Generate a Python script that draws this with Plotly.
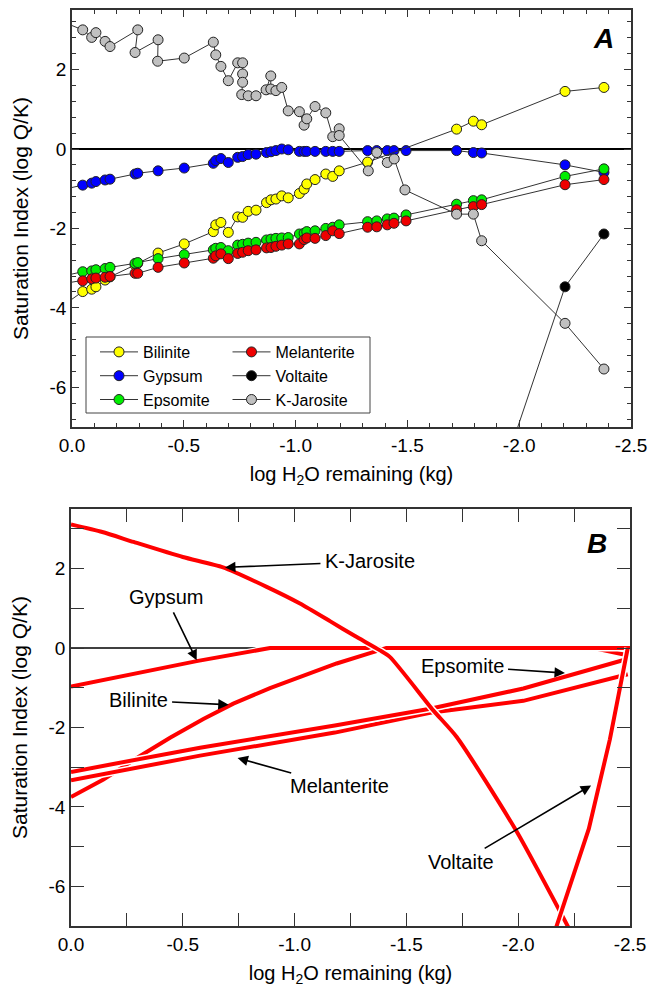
import plotly.graph_objects as go

# ---------------- Panel A data (model steps) ----------------
x_steps = [0.05, -0.048, -0.088, -0.107, -0.148, -0.170, -0.282, -0.294, -0.385, -0.502,
           -0.632, -0.643, -0.666, -0.699, -0.741, -0.763, -0.788, -0.823, -0.870, -0.890,
           -0.912, -0.938, -0.967, -1.017, -1.038, -1.050, -1.087, -1.135, -1.166, -1.195,
           -1.322, -1.363, -1.410, -1.440, -1.494, -1.720, -1.795, -1.832, -2.205, -2.379]

gypsum_a = [-1.03, -0.91, -0.86, -0.82, -0.78, -0.76, -0.63, -0.61, -0.55, -0.48,
            -0.36, -0.29, -0.24, -0.34, -0.21, -0.19, -0.14, -0.13, -0.09, -0.07,
            -0.04, 0.00, -0.02, -0.06, -0.06, -0.06, -0.06, -0.06, -0.06, -0.06,
            -0.04, -0.04, -0.04, -0.04, -0.04, -0.04, -0.09, -0.10, -0.40, -0.59]

bilinite_a = [-3.98, -3.59, -3.53, -3.47, -3.30, -3.22, -2.92, -2.88, -2.62, -2.39,
              -2.08, -1.91, -1.85, -2.10, -1.71, -1.72, -1.57, -1.54, -1.35, -1.28,
              -1.26, -1.18, -1.23, -1.12, -1.01, -0.88, -0.77, -0.63, -0.69, -0.55,
              -0.33, None, None, None, None, 0.50, 0.70, 0.61, 1.45, 1.55]

epsomite_a = [-3.21, -3.09, -3.07, -3.04, -3.01, -2.98, -2.88, -2.86, -2.76, -2.66,
              -2.54, -2.50, -2.48, -2.56, -2.42, -2.40, -2.37, -2.35, -2.29, -2.27,
              -2.25, -2.24, -2.23, -2.14, -2.12, -2.08, -2.06, -2.00, -1.97, -1.91,
              -1.83, -1.81, -1.76, -1.74, -1.66, -1.39, -1.30, -1.28, -0.69, -0.50]

melanterite_a = [-3.40, -3.32, -3.27, -3.25, -3.23, -3.21, -3.13, -3.13, -2.98, -2.87,
                 -2.75, -2.69, -2.64, -2.76, -2.63, -2.60, -2.56, -2.54, -2.49, -2.48,
                 -2.45, -2.42, -2.39, -2.39, -2.28, -2.24, -2.25, -2.18, -2.06, -2.13,
                 -1.97, -1.96, -1.91, -1.87, -1.81, -1.53, -1.45, -1.40, -0.90, -0.77]

voltaite_x = [-1.832, -2.205, -2.379]
voltaite_a = [-9.7, -3.47, -2.14]

kjarosite_x = [0.05, -0.048, -0.088, -0.107, -0.148, -0.170, -0.294, -0.282, -0.385, -0.383,
               -0.502, -0.632, -0.643, -0.666, -0.699, -0.741, -0.763, -0.763, -0.763, -0.759,
               -0.788, -0.823, -0.868, -0.889, -0.889, -0.912, -0.938, -0.967, -1.017, -1.038,
               -1.050, -1.087, -1.135, -1.166, -1.195, -1.195, -1.325, -1.363, -1.410, -1.441,
               -1.489, -1.720, -1.795, -1.832, -2.205, -2.379]
kjarosite_a = [3.22, 3.00, 2.81, 2.93, 2.71, 2.58, 3.00, 2.43, 2.75, 2.21,
               2.29, 2.69, 2.37, 2.08, 1.72, 2.17, 2.17, 1.89, 1.68, 1.37,
               1.34, 1.34, 1.49, 1.84, 1.51, 1.47, 1.55, 0.96, 0.94, 0.60,
               0.76, 1.07, 0.91, 0.31, 0.51, 0.34, -0.55, -0.09, -0.34, -0.25,
               -1.03, -1.64, -1.64, -2.31, -4.39, -5.54]

# ---------------- Panel B data (curves) ----------------
kjar_b_x = [0, -0.14, -0.28, -0.50, -0.68, -0.875, -1.024, -1.16, -1.27, -1.382, -1.427,
            -1.62, -1.725, -1.99, -2.24]
kjar_b_y = [3.11, 2.92, 2.67, 2.29, 2.03, 1.54, 1.12, 0.67, 0.30, -0.06, -0.23,
            -1.57, -2.24, -4.59, -7.2]
gyp_b_x = [0, -0.562, -0.89, -2.336, -2.478]
gyp_b_y = [-0.97, -0.33, 0.0, 0.0, -0.17]
bil_b_x = [0, -0.145, -0.309, -0.443, -0.592, -0.726, -0.890, -1.039, -1.188, -1.337, -1.41, -2.50]
bil_b_y = [-3.75, -3.31, -2.72, -2.26, -1.79, -1.40, -1.01, -0.69, -0.39, -0.13, 0.0, 0.0]
eps_b_x = [0, -0.577, -1.18, -1.606, -2.023, -2.455, -2.48]
eps_b_y = [-3.12, -2.51, -1.95, -1.53, -1.02, -0.33, -0.29]
mel_b_x = [0, -0.577, -1.18, -1.606, -2.023, -2.44, -2.49]
mel_b_y = [-3.33, -2.71, -2.13, -1.63, -1.33, -0.73, -0.66]
vol_b_x = [-2.16, -2.316, -2.41, -2.49]
vol_b_y = [-7.2, -4.55, -2.30, 0.0]

# label text position and arrow head (panel B, data units)
label_names = ["K-Jarosite", "Gypsum", "Bilinite", "Epsomite", "Melanterite", "Voltaite"]
label_x = [-1.337, -0.425, -0.30, -1.749, -1.199, -1.744]
label_y = [2.18, 1.28, -1.32, -0.46, -3.48, -5.40]
head_x = [-0.689, -0.562, -0.705, -2.209, -0.745, -2.326]
head_y = [2.03, -0.31, -1.43, -0.63, -2.77, -3.46]

x_tick_vals = [0, -0.5, -1.0, -1.5, -2.0, -2.5]
x_tick_text = ["0.0", "-0.5", "-1.0", "-1.5", "-2.0", "-2.5"]
y_tick_vals = [2, 0, -2, -4, -6]
y_tick_text = ["2", "0", "-2", "-4", "-6"]

FONT = "Liberation Sans, Arial, Helvetica, sans-serif"
W, H = 649, 990

fig = go.Figure()

# zero lines
fig.add_trace(go.Scatter(x=[0, -2.5], y=[0, 0], mode="lines", line=dict(color="black", width=2),
                         showlegend=False, hoverinfo="skip", xaxis="x", yaxis="y"))
fig.add_trace(go.Scatter(x=[0, -2.5], y=[0, 0], mode="lines", line=dict(color="black", width=1.5),
                         showlegend=False, hoverinfo="skip", xaxis="x2", yaxis="y2"))

def series(name, xs, ys, color, legend, rank):
    fig.add_trace(go.Scatter(
        x=xs, y=ys, name=name, mode="lines+markers", connectgaps=True,
        line=dict(color="#333333", width=1),
        marker=dict(size=10, color=color, line=dict(color="#222222", width=1)),
        legend=legend, legendrank=rank, xaxis="x", yaxis="y"))

series("Gypsum", x_steps, gypsum_a, "#0000ff", "legend", 2)
series("Bilinite", x_steps, bilinite_a, "#ffff00", "legend", 1)
series("Epsomite", x_steps, epsomite_a, "#00ee00", "legend", 3)
series("Melanterite", x_steps, melanterite_a, "#ee0000", "legend2", 1)
series("Voltaite", voltaite_x, voltaite_a, "#000000", "legend2", 2)
series("K-Jarosite", kjarosite_x, kjarosite_a, "#c0c0c0", "legend2", 3)

def curve(xs, ys, shape="linear"):
    fig.add_trace(go.Scatter(x=xs, y=ys, mode="lines",
                             line=dict(color="white", width=7, shape=shape, smoothing=0.6),
                             showlegend=False, hoverinfo="skip", xaxis="x2", yaxis="y2"))
    fig.add_trace(go.Scatter(x=xs, y=ys, mode="lines",
                             line=dict(color="#ff0000", width=4, shape=shape, smoothing=0.6),
                             showlegend=False, hoverinfo="skip", xaxis="x2", yaxis="y2"))

curve(gyp_b_x, gyp_b_y)
curve(bil_b_x, bil_b_y)
curve(mel_b_x, mel_b_y)
curve(eps_b_x, eps_b_y)
curve(kjar_b_x, kjar_b_y, "spline")
curve(vol_b_x, vol_b_y)

axis_common = dict(showline=True, linecolor="#333333", linewidth=1.5, mirror="ticks",
                   ticks="inside", tickcolor="#333333", showgrid=False, zeroline=False,
                   automargin=False,
                   tickfont=dict(family=FONT, size=19, color="black"))

xa = dict(axis_common, range=[0, -2.5], tickvals=x_tick_vals, ticktext=x_tick_text,
          ticklen=7, tickwidth=1,
          title=dict(text="log H<sub>2</sub>O remaining (kg)", font=dict(family=FONT, size=20, color="black"), standoff=12))
ya = dict(axis_common, range=[-7, 3.5], tickvals=y_tick_vals, ticktext=y_tick_text,
          ticklen=7, tickwidth=1,
          title=dict(text="Saturation Index (log Q/K)", font=dict(family=FONT, size=21, color="black"), standoff=15))

legend_common = dict(orientation="v", xanchor="left", yanchor="top", borderwidth=0,
                     bgcolor="rgba(0,0,0,0)", font=dict(family=FONT, size=16, color="black"),
                     itemwidth=38, tracegroupgap=0)

fig.update_layout(
    width=W, height=H, margin=dict(l=0, r=0, t=0, b=0, autoexpand=False),
    paper_bgcolor="white", plot_bgcolor="white",
    font=dict(family=FONT, color="black"),
    xaxis=dict(xa, domain=[72 / W, 631 / W], anchor="y",
               minor=dict(dtick=0.1, tick0=0, ticks="inside", ticklen=4, tickcolor="#333333")),
    yaxis=dict(ya, domain=[1 - 427 / H, 1 - 10 / H], anchor="x",
               minor=dict(dtick=0.4, tick0=0, ticks="inside", ticklen=4, tickcolor="#333333")),
    xaxis2=dict(xa, domain=[71 / W, 630 / W], anchor="y2", ticklen=13,
                minor=dict(dtick=0.25, tick0=0, ticks="inside", ticklen=13, tickcolor="#333333")),
    yaxis2=dict(ya, domain=[1 - 926 / H, 1 - 509 / H], anchor="x2", ticklen=13,
                minor=dict(dtick=1, tick0=0, ticks="inside", ticklen=13, tickcolor="#333333")),
    legend=dict(legend_common, x=95 / W, y=1 - 335 / H),
    legend2=dict(legend_common, x=227.5 / W, y=1 - 335 / H),
    showlegend=True,
    shapes=[dict(type="rect", xref="paper", yref="paper", x0=86 / W, x1=370 / W,
                 y0=1 - 413 / H, y1=1 - 337 / H, line=dict(color="#444444", width=1),
                 fillcolor="rgba(0,0,0,0)", layer="above")],
)

ann = []
ann.append(dict(text="<b><i>A</i></b>", x=603 / W, y=1 - 38 / H, xref="paper", yref="paper",
                xanchor="center", yanchor="middle",
                showarrow=False, font=dict(family=FONT, size=28, color="black")))
ann.append(dict(text="<b><i>B</i></b>", x=597 / W, y=1 - 543 / H, xref="paper", yref="paper",
                xanchor="center", yanchor="middle",
                showarrow=False, font=dict(family=FONT, size=28, color="black")))

for txt, tx, ty, hx, hy in zip(label_names, label_x, label_y, head_x, head_y):
    ann.append(dict(text=txt, x=hx, y=hy, ax=tx, ay=ty, xref="x2", yref="y2",
                    axref="x2", ayref="y2", showarrow=True, arrowhead=2, arrowsize=1.3,
                    arrowwidth=1.6, arrowcolor="black", standoff=0, startstandoff=3,
                    font=dict(family=FONT, size=20, color="black")))
fig.update_layout(annotations=ann)

fig.write_html("out.html", config={"displayModeBar": False},
               post_script="document.body.style.margin='0';document.body.style.overflow='hidden';")
